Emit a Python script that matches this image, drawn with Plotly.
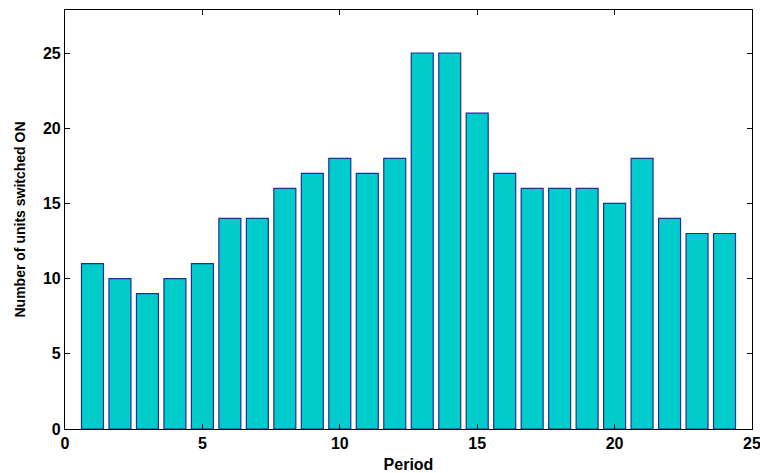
import plotly.graph_objects as go

periods = list(range(1, 25))
units_on = [11, 10, 9, 10, 11, 14, 14, 16, 17, 18, 17, 18, 25, 25, 21, 17, 16, 16, 16, 15, 18, 14, 13, 13]
tick_vals = [0, 5, 10, 15, 20, 25]

fig = go.Figure(go.Bar(
    x=periods, y=units_on, width=0.8,
    marker=dict(color="#00CCCC", line=dict(color="#1F2F9A", width=1.2)),
))

axis_common = dict(
    showline=True, linecolor="black", linewidth=1.2, mirror="allticks",
    ticks="inside", ticklen=5, tickcolor="black", tickwidth=1,
    showgrid=False, zeroline=False, automargin=False,
    ticklabeloverflow="allow",
    tickfont=dict(family="Liberation Sans, Arial", size=16, color="black", weight="bold"),
    tickvals=tick_vals,
)

fig.update_layout(
    width=760, height=473,
    margin=dict(l=65, r=8, t=10, b=44),
    plot_bgcolor="white", paper_bgcolor="white",
    showlegend=False,
    bargap=0.2,
    xaxis=dict(range=[0, 25], title=dict(text="Period", standoff=7,
               font=dict(family="Liberation Sans, Arial", size=16, color="black", weight="bold")),
               **axis_common),
    yaxis=dict(range=[0, 27.86], title=dict(text="Number of units switched ON", standoff=14,
               font=dict(family="Liberation Sans, Arial", size=14, color="black", weight="bold")),
               **axis_common),
)

fig.write_html("out.html", config={"displayModeBar": False},
               post_script="document.body.style.margin='0';document.body.style.overflow='hidden';")
